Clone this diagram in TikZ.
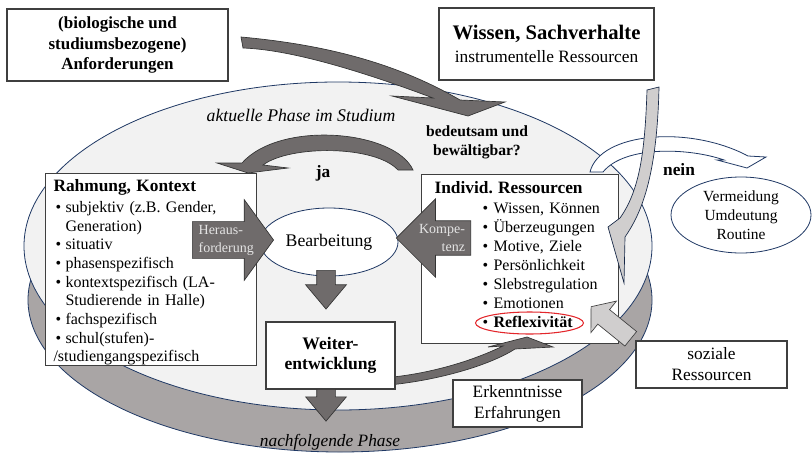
\documentclass[tikz,border=0pt]{standalone}
\usepackage{fontspec}
\setmainfont{Liberation Serif}
\usetikzlibrary{shapes.geometric,shapes.arrows}
\definecolor{RingGray}{HTML}{A9A5A5}
\definecolor{PhaseFill}{HTML}{F2F2F2}
\definecolor{PhaseLine}{HTML}{1F3864}
\definecolor{ArrowDark}{HTML}{6F6B6B}
\definecolor{ArrowLight}{HTML}{D0CECE}
\definecolor{ArrowText}{HTML}{E4E4E4}
\definecolor{BoxLine}{HTML}{3F3F3F}
\definecolor{MarkRed}{HTML}{E3262B}
\tikzset{
  phasering/.style={draw=PhaseLine,line width=0.6pt},
  textbox/.style={draw=BoxLine,fill=white,line width=0.8pt,align=center,inner sep=0pt,font=\fontsize{13}{15.75}\selectfont},
  headbox/.style={textbox,font=\fontsize{12.75}{15.4}\selectfont\bfseries},
  listbox/.style={draw=BoxLine,fill=white,line width=0.8pt,align=left,anchor=north west,inner sep=0pt},
  roundbox/.style={ellipse,draw=PhaseLine,fill=white,line width=0.6pt,align=center,inner sep=0pt},
  freetext/.style={align=center,inner sep=0pt},
  darkarrow/.style={fill=ArrowDark,draw=black!80,line width=0.5pt},
  lightarrow/.style={fill=ArrowLight,draw=PhaseLine!70!black,line width=0.5pt},
  openarrow/.style={fill=white,draw=PhaseLine,line width=0.6pt},
  blockarrow/.style={single arrow,single arrow head indent=0pt,fill=ArrowDark,draw=black!80,line width=0.5pt,text=ArrowText,font=\fontsize{10.5}{13.5}\selectfont}
}
\newcommand{\ritem}[1]{\hspace*{7.5pt}\makebox[7.5pt][l]{\textbullet}#1}
\newcommand{\rcont}[1]{\hspace*{15pt}#1}
\newcommand{\iitem}[1]{\hspace*{45.75pt}\makebox[8.25pt][l]{\textbullet}#1}

\begin{document}
\begin{tikzpicture}[x=0.75pt,y=-0.75pt]
  \useasboundingbox (0,0) rectangle (812,453);
  % Phasen
  \draw[phasering,fill=RingGray] (340,300) ellipse [x radius=234pt, y radius=114pt];
  \draw[phasering,fill=PhaseFill] (338,246) ellipse [x radius=235.5pt, y radius=123pt];
  \node[freetext,font=\fontsize{13.3}{16}\selectfont\itshape] (nowphase) at (301,115) {aktuelle Phase im Studium};
  \node[freetext,font=\fontsize{13}{16}\selectfont\itshape] (nextphase) at (330,442) {nachfolgende Phase};

  % oben
  \node[headbox,minimum width=165.75pt,minimum height=54pt] (anford) at (117.5,45) {(biologische und\\studiumsbezogene)\\Anforderungen};
  \node[textbox,font=\fontsize{13}{17.25}\selectfont,minimum width=161.25pt,minimum height=54pt] (wissen) at (546.5,44) {{\fontsize{15.5}{17}\selectfont\bfseries Wissen, Sachverhalte}\\instrumentelle Ressourcen};
  \draw[darkarrow] (241,37) .. controls (330,45) and (400,65) .. (460,100) -- (505,102) -- (468,116) -- (392,96) -- (433,98) .. controls (385,80) and (300,50) .. (243,48) -- cycle;
  \node[freetext,font=\fontsize{11.7}{14.25}\selectfont\bfseries] (ask) at (477,142) {bedeutsam und\\bewältigbar?};

  % Rahmen und Ressourcen
  \node[listbox,text width=158.25pt,font=\fontsize{12}{14}\selectfont] (rahmung) at (45,173) {%
    \rule{0pt}{13.5pt}\hspace*{6pt}{\fontsize{13}{14}\selectfont\bfseries Rahmung, Kontext}\\[1.75pt]
    \ritem{subjektiv (z.B.\ Gender,}\\
    \rcont{Generation)}\\
    \ritem{situativ}\\
    \ritem{phasenspezifisch}\\
    \ritem{kontextspezifisch (LA-}\\
    \rcont{Studierende in Halle)}\\
    \ritem{fachspezifisch}\\
    \ritem{schul(stufen)-}\\
    \hspace*{6pt}/studiengangspezifisch\rule[-3pt]{0pt}{3pt}};
  \node[listbox,text width=147.75pt,font=\fontsize{12}{14.25}\selectfont] (individ) at (421,174) {%
    \rule{0pt}{14.25pt}\hspace*{9.75pt}{\fontsize{13}{14}\selectfont\bfseries Individ.\ Ressourcen}\\[0.75pt]
    \iitem{Wissen, Können}\\
    \iitem{Überzeugungen}\\
    \iitem{Motive, Ziele}\\
    \iitem{Persönlichkeit}\\
    \iitem{Slebstregulation}\\
    \iitem{Emotionen}\\
    \iitem{\textbf{Reflexivität}}\rule[-12pt]{0pt}{12pt}};
  \node[roundbox,font=\fontsize{13.3}{16}\selectfont,minimum width=103.5pt,minimum height=51pt] (bearb) at (329,242) {Bearbeitung};

  % ja
  \draw[darkarrow] (413,170) .. controls (395,130) and (280,120) .. (242,163) -- (217,163) -- (248,173) -- (288,168) -- (263,165) .. controls (290,145) and (375,145) .. (398,170) -- cycle;
  \node[freetext,font=\fontsize{13}{15}\selectfont\bfseries] (yes) at (323,173) {ja};

  \node[blockarrow,anchor=tail,align=left,inner xsep=4.5pt,inner ysep=2.2pt,single arrow head extend=16.5pt,single arrow tip angle=108] (heraus) at (192,240) {Heraus-\\forderung};
  \node[blockarrow,shape border rotate=180,anchor=tail,align=right,inner xsep=4pt,inner ysep=2.4pt,single arrow head extend=16.5pt,single arrow tip angle=90] (kompetenz) at (471,238) {Kompe-\\tenz};
  \node[blockarrow,rotate=-90,anchor=tail,inner xsep=10.1pt,inner ysep=6.75pt,single arrow head extend=8.25pt,single arrow tip angle=80] (down1) at (326,270) {};

  % nein
  \draw[openarrow] (590,172) .. controls (600,132) and (690,125) .. (748,156) -- (766,157) -- (747,168) -- (717,160) -- (724,160) .. controls (690,148) and (625,145) .. (603,172) -- cycle;
  \node[freetext,font=\fontsize{13}{15}\selectfont\bfseries] (no) at (679,170) {nein};
  \node[roundbox,font=\fontsize{11.6}{14.25}\selectfont,minimum width=105pt,minimum height=57pt] (vermeid) at (741,215) {Vermeidung\\Umdeutung\\Routine};
  \draw[lightarrow] (647,90) .. controls (645,150) and (640,190) .. (620,218) -- (608,227) -- (624,283) -- (625,237) .. controls (640,215) and (657,180) .. (659,87) -- cycle;

  % Weiterentwicklung
  \draw[darkarrow] (389,385) .. controls (440,380) and (490,365) .. (515,349) -- (553,347) -- (527,337) -- (488,347) -- (503,346) .. controls (470,362) and (430,373) .. (393,377) -- cycle;
  \node[textbox,font=\fontsize{13.2}{15}\selectfont\bfseries,minimum width=96.75pt,minimum height=50.25pt] (weiter) at (330.5,355.5) {Weiter-\\entwicklung};
  \node[blockarrow,rotate=-90,anchor=tail,inner xsep=7.5pt,inner ysep=6.75pt,single arrow head extend=8.25pt,single arrow tip angle=80] (down2) at (326,389) {};
  \node[textbox,minimum width=96.75pt,minimum height=35.25pt] (erkennt) at (517.5,403.5) {Erkenntnisse\\Erfahrungen};

  % soziale Ressourcen
  \node[textbox,minimum width=113.25pt,minimum height=35.25pt] (sozial) at (711.5,364.5) {soziale\\Ressourcen};
  \node[blockarrow,fill=ArrowLight,draw=BoxLine,rotate=141,anchor=tail,inner xsep=16.1pt,inner ysep=6.75pt,single arrow head extend=8.25pt,single arrow tip angle=103] (sozarrow) at (631,339) {};
  \node[ellipse,draw=MarkRed,line width=0.8pt,minimum width=81pt,minimum height=16.5pt,inner sep=0pt] (reflexring) at (529.5,323) {};
\end{tikzpicture}
\end{document}
